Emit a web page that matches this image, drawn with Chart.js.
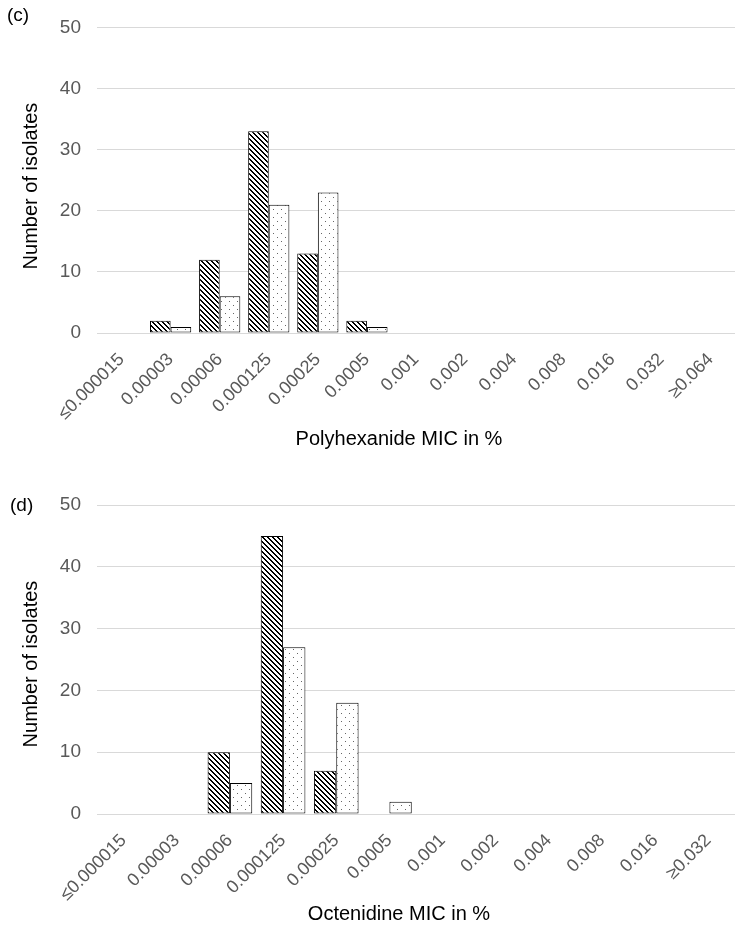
<!DOCTYPE html>
<html>
<head>
<meta charset="utf-8">
<script src="https://cdn.jsdelivr.net/npm/chart.js@4.4.0/dist/chart.umd.min.js"></script>
<style>
    body { margin: 0; background: #fff; width: 745px; height: 936px; position: relative; overflow: hidden; font-family: "Liberation Sans", Arial, sans-serif; }
    .panel { position: absolute; left: 0; }
    .tag { position: absolute; font-size: 19px; color: #000; }
    .xtitle { position: absolute; font-size: 20px; color: #000; white-space: nowrap; transform: translate(-50%, -50%); }
    .ytitle { position: absolute; font-size: 20px; color: #000; white-space: nowrap; transform: translate(-50%, -50%) rotate(-90deg); }
</style>
</head>
<body>
<canvas id="chartC" class="panel" style="top:0" width="745" height="460"></canvas>
<canvas id="chartD" class="panel" style="top:460px" width="745" height="476"></canvas>

<div class="tag" style="left:7px;top:4px">(c)</div>
<div class="tag" style="left:10px;top:494px">(d)</div>
<div class="ytitle" style="left:30px;top:186px">Number of isolates</div>
<div class="ytitle" style="left:30px;top:664px">Number of isolates</div>
<div class="xtitle" style="left:399px;top:438px">Polyhexanide MIC in %</div>
<div class="xtitle" style="left:399px;top:913px">Octenidine MIC in %</div>

<script>
// (c) polyhexanide
const micLabelsC = ['\u22640.000015', '0.00003', '0.00006', '0.000125', '0.00025', '0.0005',
    '0.001', '0.002', '0.004', '0.008', '0.016', '0.032', '\u22650.064'];
const hatchedC = [0, 2, 12, 33, 13, 2, 0, 0, 0, 0, 0, 0, 0];
const dottedC = [0, 1, 6, 21, 23, 1, 0, 0, 0, 0, 0, 0, 0];

// (d) octenidine
const micLabelsD = ['\u22640.000015', '0.00003', '0.00006', '0.000125', '0.00025', '0.0005',
    '0.001', '0.002', '0.004', '0.008', '0.016', '\u22650.032'];
const hatchedD = [0, 0, 10, 45, 7, 0, 0, 0, 0, 0, 0, 0];
const dottedD = [0, 0, 5, 27, 18, 2, 0, 0, 0, 0, 0, 0];

const yMax = 50;
const yStep = 10;

// wide downward diagonal, drawn pixel by pixel like the office pattern fill
function hatchPattern() {
    const n = 5;
    const c = document.createElement('canvas');
    c.width = n; c.height = n;
    const ctx = c.getContext('2d');
    ctx.fillStyle = '#fff';
    ctx.fillRect(0, 0, n, n);
    ctx.fillStyle = '#000';
    for (let y = 0; y < n; y++) {
        for (let x = 0; x < n; x++) {
            if (((x - y) % n + n) % n < 2) ctx.fillRect(x, y, 1, 1);
        }
    }
    return ctx.createPattern(c, 'repeat');
}

// sparse dots
function dotPattern() {
    const n = 8;
    const c = document.createElement('canvas');
    c.width = n; c.height = n;
    const ctx = c.getContext('2d');
    ctx.fillStyle = '#fff';
    ctx.fillRect(0, 0, n, n);
    ctx.fillStyle = '#666';
    ctx.fillRect(1, 1, 1, 1);
    ctx.fillRect(5, 5, 1, 1);
    return ctx.createPattern(c, 'repeat');
}

const hatch = hatchPattern();
const dots = dotPattern();

function makeChart(id, labels, hatched, dotted, top, axisHeight) {
    return new Chart(document.getElementById(id), {
        type: 'bar',
        data: {
            labels,
            datasets: [
                { label: 'Series 1', data: hatched, backgroundColor: hatch, borderColor: '#000', borderWidth: 1, borderSkipped: false },
                { label: 'Series 2', data: dotted, backgroundColor: dots, borderColor: '#000', borderWidth: 1, borderSkipped: false }
            ]
        },
        options: {
            responsive: false,
            animation: false,
            datasets: { bar: { categoryPercentage: 0.84, barPercentage: 1 } },
            layout: { padding: { top: top, right: 10, left: 0, bottom: 0 } },
            plugins: { legend: { display: false }, tooltip: { enabled: false } },
            scales: {
                x: {
                    grid: { display: false },
                    border: { display: false },
                    ticks: {
                        autoSkip: false, maxRotation: 45, minRotation: 45,
                        color: '#595959', padding: 8,
                        font: { family: 'Liberation Sans, Arial, sans-serif', size: 18 }
                    },
                    afterFit: s => { s.height = axisHeight; }
                },
                y: {
                    min: 0, max: yMax,
                    grid: { color: '#d9d9d9', drawTicks: false },
                    border: { display: false },
                    ticks: {
                        stepSize: yStep, color: '#595959', padding: 16,
                        font: { family: 'Liberation Sans, Arial, sans-serif', size: 19 }
                    },
                    afterFit: s => { s.width = 97; }
                }
            }
        }
    });
}

makeChart('chartC', micLabelsC, hatchedC, dottedC, 22, 127);
makeChart('chartD', micLabelsD, hatchedD, dottedD, 45, 122);
</script>
</body>
</html>
